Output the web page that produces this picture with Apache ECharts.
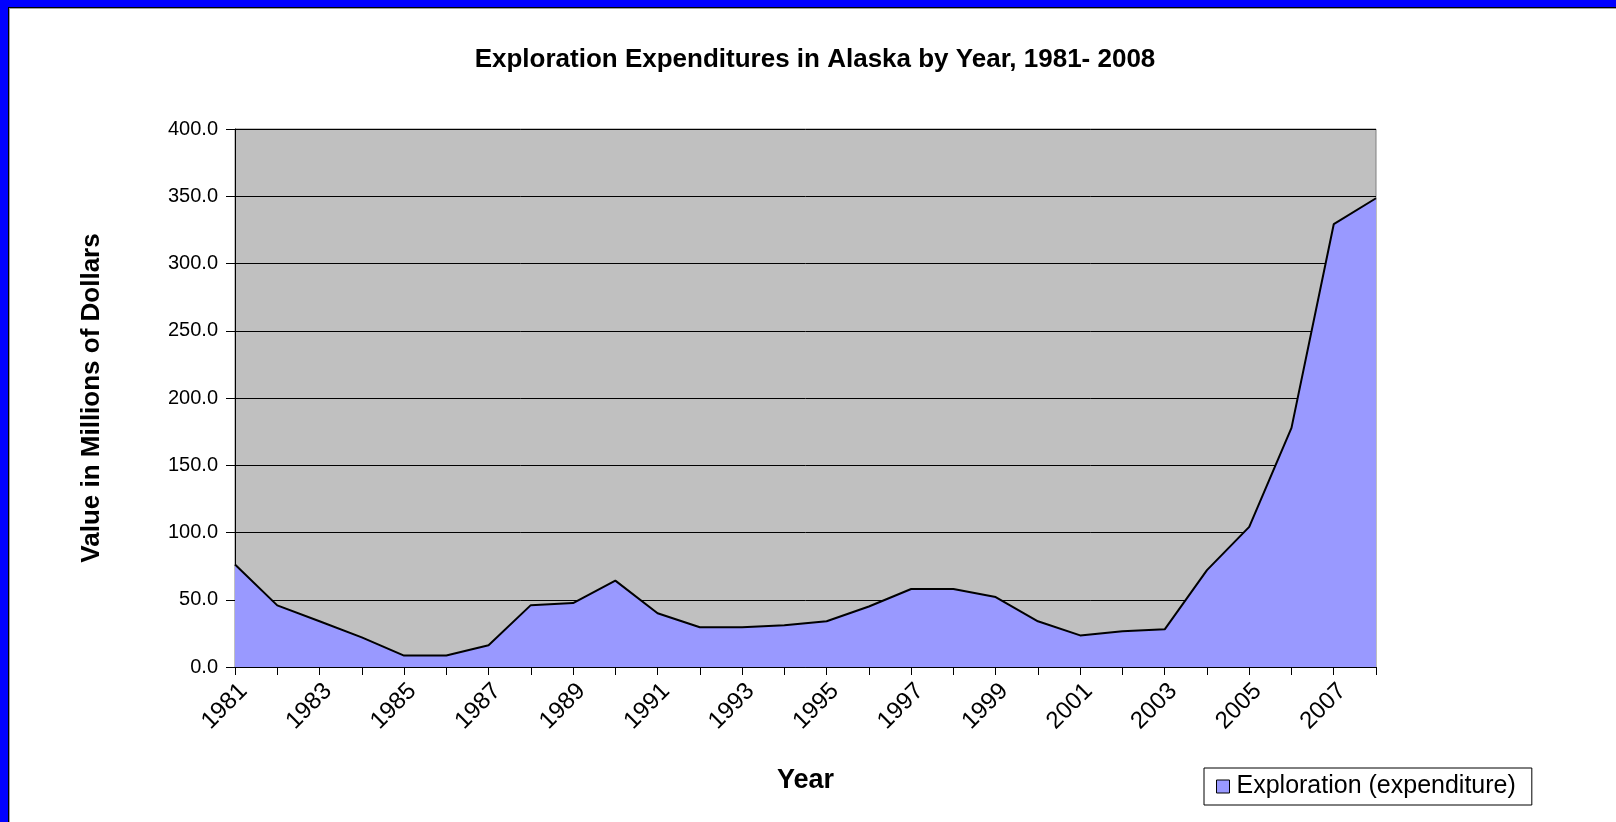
<!DOCTYPE html>
<html>
<head>
<meta charset="utf-8">
<script src="https://cdn.jsdelivr.net/npm/echarts@6/dist/echarts.min.js"></script>
<style>
html,body{margin:0;padding:0;background:#fff;}
#wrap{position:relative;width:1616px;height:822px;overflow:hidden;background:#fff;}
#chart{position:absolute;left:0;top:0;width:1616px;height:822px;}
.strip{position:absolute;z-index:5;}
</style>
</head>
<body>
<div id="wrap">
  <div id="chart"></div>
  <div class="strip" style="left:0;top:0;width:1616px;height:7px;background:#0000FF;"></div>
  <div class="strip" style="left:0;top:0;width:8px;height:822px;background:#0000FF;"></div>
  <div class="strip" style="left:8px;top:7px;width:1608px;height:1px;background:#000;"></div>
  <div class="strip" style="left:8px;top:7px;width:1px;height:815px;background:#000;"></div>
  <div class="strip" style="left:9px;top:8px;width:1607px;height:1px;background:#a0a0a0;"></div>
  <div class="strip" style="left:9px;top:8px;width:1px;height:814px;background:#a0a0a0;"></div>
</div>
<script>
const titleText = 'Exploration Expenditures in Alaska by Year, 1981- 2008';
const seriesName = 'Exploration (expenditure)';
const years = ['1981','1982','1983','1984','1985','1986','1987','1988','1989','1990',
               '1991','1992','1993','1994','1995','1996','1997','1998','1999','2000',
               '2001','2002','2003','2004','2005','2006','2007','2008'];
const expenditure = [76.2, 45.8, 34.0, 22.0, 8.5, 8.5, 16.2, 46.0, 47.5, 64.2,
                     40.0, 29.5, 29.5, 31.0, 34.0, 45.0, 58.0, 58.0, 52.0, 34.0,
                     23.5, 26.5, 28.0, 72.0, 104.2, 177.8, 329.2, 348.5];
const yTicks = {min: 0, max: 400, interval: 50};

const chart = echarts.init(document.getElementById('chart'), null, {renderer: 'canvas'});
const font = '"Liberation Sans", Arial, sans-serif';
chart.setOption({
  animation: false,
  backgroundColor: 'transparent',
  title: {
    text: titleText,
    left: 810, top: 42, textAlign: 'center',
    textStyle: {fontFamily: font, fontSize: 26, fontWeight: 'bold', color: '#000'}
  },
  legend: {
    data: [seriesName],
    left: 1204, top: 768,
    padding: [6, 16, 6, 12],
    backgroundColor: '#fff',
    borderColor: '#000', borderWidth: 1,
    itemWidth: 13, itemHeight: 13, itemGap: 6,
    icon: 'rect',
    textStyle: {fontFamily: font, fontSize: 25, color: '#000', padding: [0, 0, 0, 2]},
    itemStyle: {borderColor: '#000', borderWidth: 1}
  },
  grid: {
    left: 235, top: 129, right: 240, bottom: 155,
    show: true, backgroundColor: '#C0C0C0', borderColor: '#808080', borderWidth: 1
  },
  xAxis: {
    type: 'category',
    data: years,
    boundaryGap: false,
    name: 'Year',
    nameLocation: 'middle',
    nameGap: 100,
    nameTextStyle: {fontFamily: font, fontSize: 27, fontWeight: 'bold', color: '#000'},
    axisLine: {lineStyle: {color: '#000', width: 1}},
    axisTick: {show: true, interval: 0, length: 8, lineStyle: {color: '#000'}},
    axisLabel: {interval: 1, rotate: 45, fontFamily: font, fontSize: 24, color: '#000', margin: 12,
                verticalAlign: 'top'},
    splitLine: {show: false}
  },
  yAxis: {
    type: 'value',
    min: yTicks.min, max: yTicks.max, interval: yTicks.interval,
    name: 'Value in Millions of Dollars',
    nameLocation: 'middle',
    nameGap: 130,
    nameTextStyle: {fontFamily: font, fontSize: 26, fontWeight: 'bold', color: '#000'},
    axisLine: {show: true, lineStyle: {color: '#000', width: 1}},
    axisTick: {show: true, length: 9, lineStyle: {color: '#000'}},
    axisLabel: {fontFamily: font, fontSize: 20, color: '#000', margin: 17,
                formatter: v => v.toFixed(1)},
    splitLine: {show: true, lineStyle: {color: '#000', width: 1}}
  },
  series: [{
    name: seriesName,
    type: 'line',
    data: expenditure,
    symbol: 'none',
    lineStyle: {color: '#000', width: 2},
    itemStyle: {color: '#9999FF', borderColor: '#000', borderWidth: 1},
    areaStyle: {color: '#9999FF', opacity: 1}
  }]
});
</script>
</body>
</html>
